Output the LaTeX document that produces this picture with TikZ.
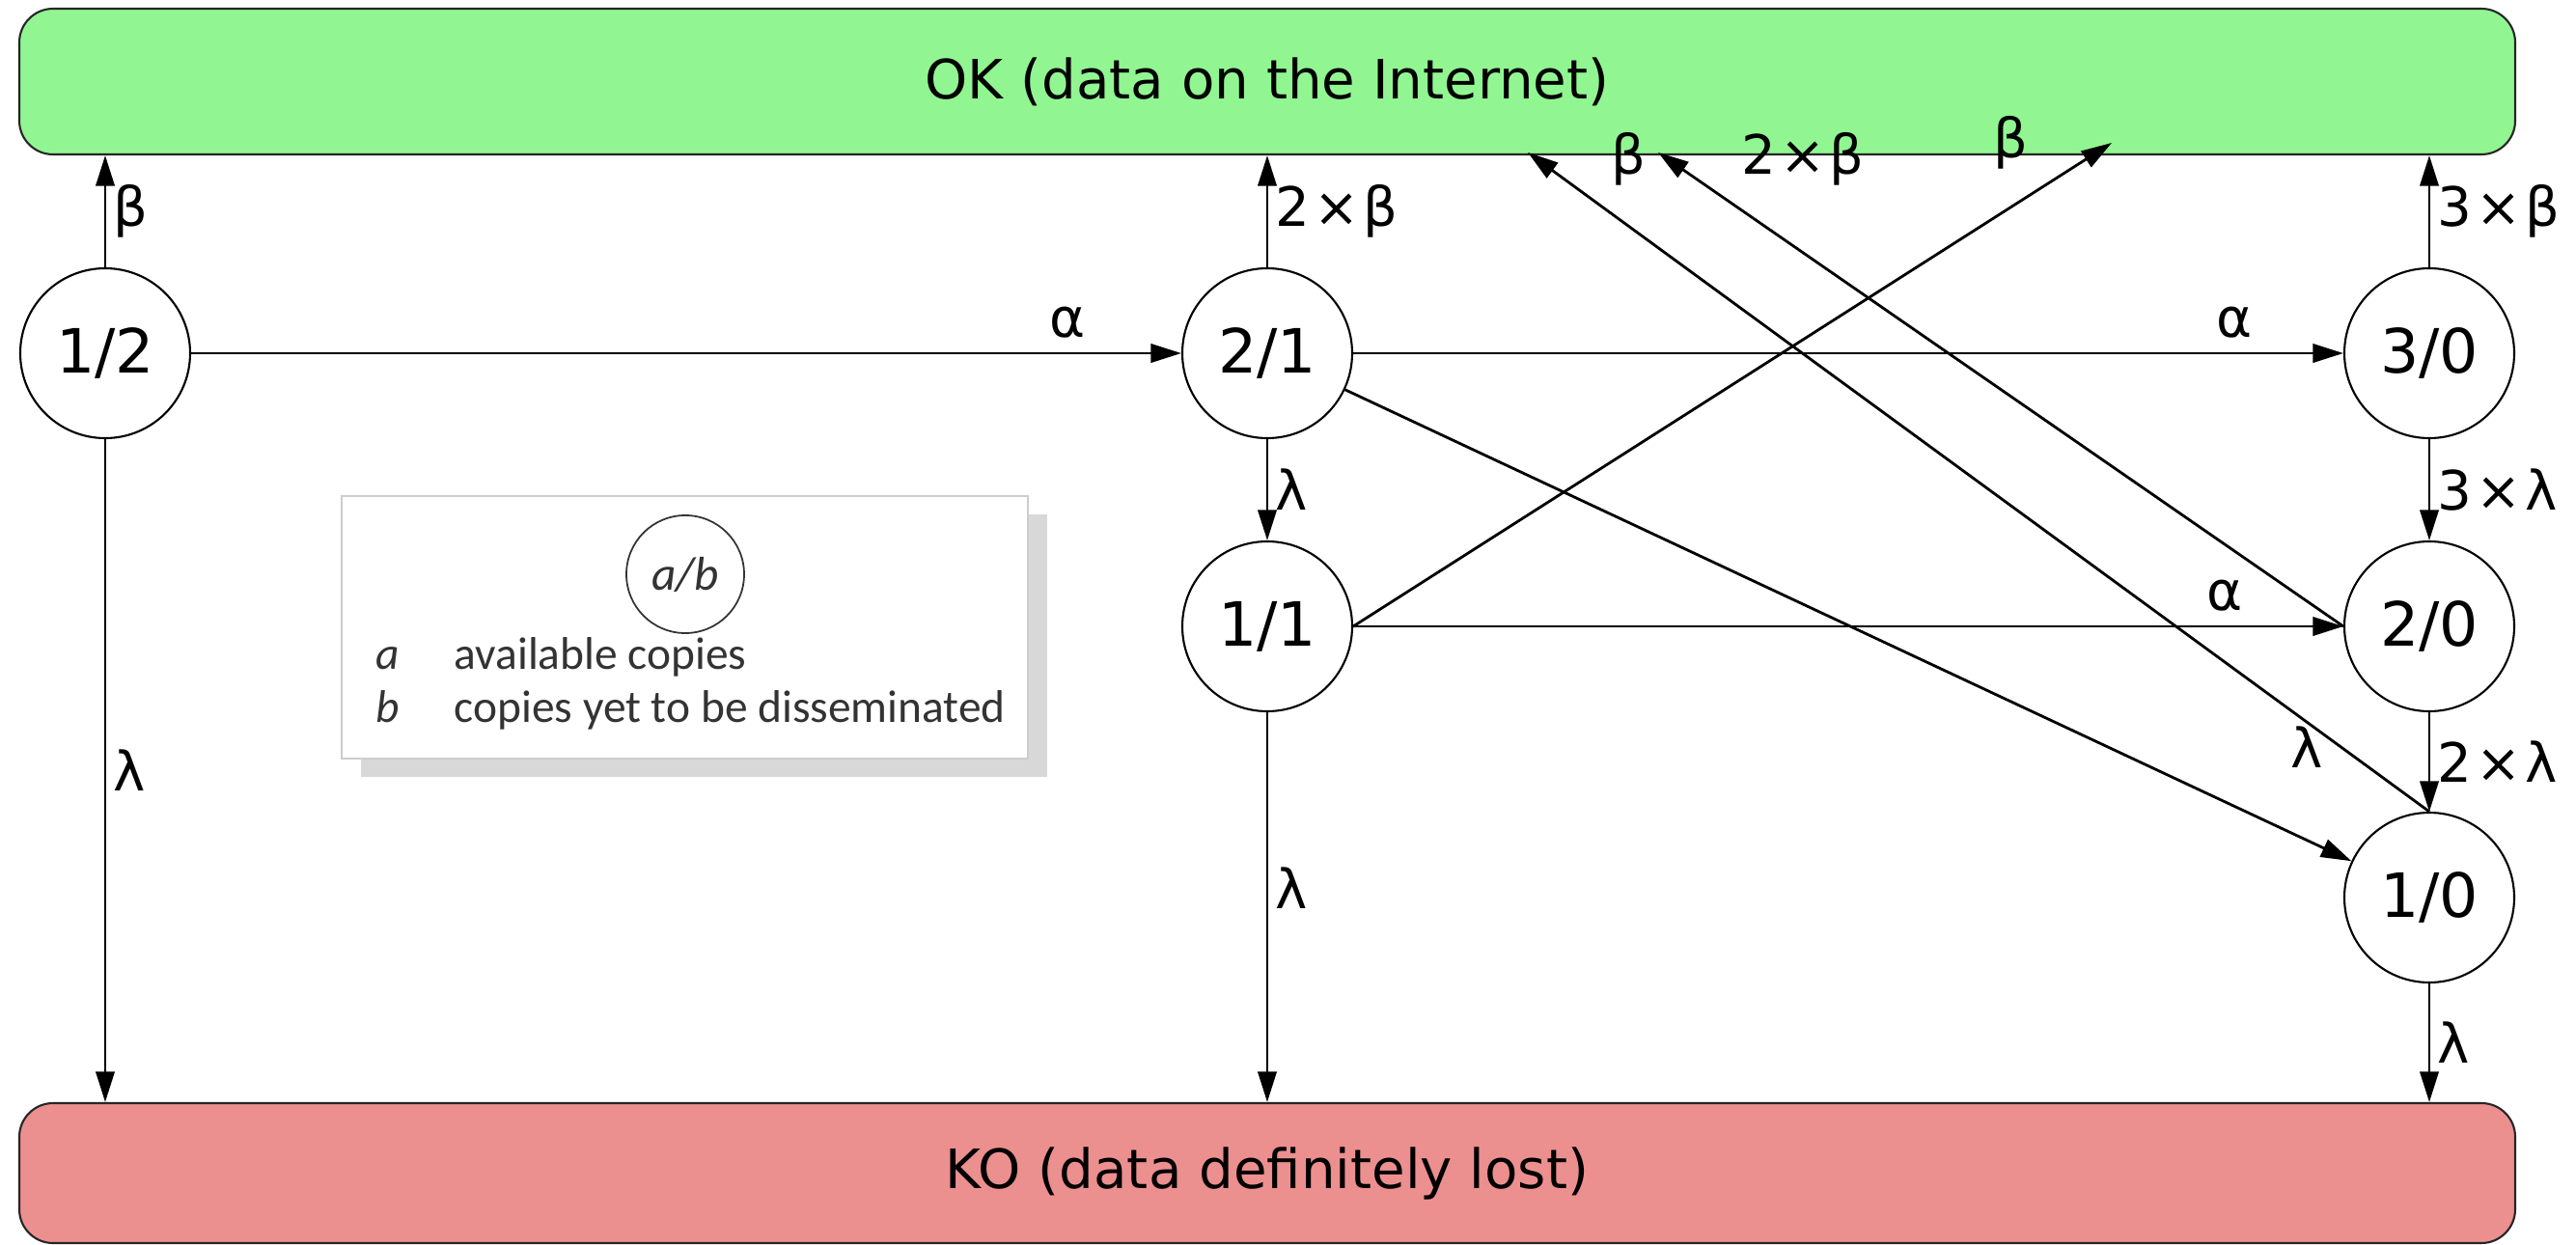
\documentclass[tikz,border=0pt]{standalone}
\usepackage{fontspec}
\setmainfont{DejaVu Sans}
\newfontfamily\legendfont{Carlito}
\usetikzlibrary{arrows.meta,calc,shadows}

\definecolor{okgreen}{RGB}{145,246,145}
\definecolor{kored}{RGB}{236,143,143}
\definecolor{legendedge}{RGB}{205,205,205}
\definecolor{legendshadow}{RGB}{216,216,216}

% rate label of the form  k x symbol
\newcommand{\ratelabel}[2]{#1\hspace{1.2pt}×\hspace{1.2pt}#2}

\begin{document}
\begin{tikzpicture}[
  state/.style={circle, draw=black, line width=0.6pt, minimum size=1.76cm,
    inner sep=0pt, font=\fontsize{18}{20}\selectfont},
  arr/.style={-{Triangle[length=9pt,width=5.5pt]}, line width=0.8pt},
  lab/.style={font=\fontsize{16}{18}\selectfont, inner sep=2pt},
  outcome/.style={draw=black!85, line width=0.6pt, rounded corners=0.35cm,
    minimum width=25.86cm, font=\fontsize{16}{19}\selectfont},
  legtext/.style={font=\legendfont\fontsize{13.5}{16}\selectfont, text=black!80,
    inner sep=0pt, anchor=base west}
]
\useasboundingbox (0,0) rectangle (26.69,12.89);

% absorbing outcomes
\node[outcome, fill=okgreen, minimum height=1.51cm] (ok) at (13.13,12.045)
  {OK (data on the Internet)};
\node[outcome, fill=kored, minimum height=1.45cm] (ko) at (13.13,0.735)
  {KO (data definitely lost)};

% states a/b
\node[state] (n12) at (1.09,9.23) {1/2};
\node[state] (n21) at (13.13,9.23) {2/1};
\node[state] (n30) at (25.17,9.23) {3/0};
\node[state] (n11) at (13.13,6.40) {1/1};
\node[state] (n20) at (25.17,6.40) {2/0};
\node[state] (n10) at (25.17,3.59) {1/0};

% end points of the diagonal transitions towards OK
\coordinate (t10) at (15.83,11.31);
\coordinate (t20) at (17.18,11.31);
\coordinate (t11) at (21.88,11.41);

% legend
\node[draw=legendedge, fill=white, line width=0.6pt,
      minimum width=7.11cm, minimum height=2.72cm, inner sep=0pt,
      drop shadow={shadow xshift=0.2cm, shadow yshift=-0.19cm,
                   fill=legendshadow, opacity=1}]
  (legend) at (7.095,6.39) {};
\node[circle, draw=black!80, line width=0.5pt, minimum size=1.22cm, inner sep=0pt,
      font=\legendfont\itshape\fontsize{14}{16}\selectfont, text=black!80]
  (legcirc) at (7.10,6.94) {a/b};
\node[legtext] (lega) at (3.89,5.96) {\itshape a};
\node[legtext] (legatxt) at (4.70,5.96) {available copies};
\node[legtext] (legb) at (3.89,5.41) {\itshape b};
\node[legtext] (legbtxt) at (4.70,5.41) {copies yet to be disseminated};

% transitions
\draw[arr] (n12) -- (n12 |- ok.south) node[lab, midway, right] {β};
\draw[arr] (n12) -- (n21) node[lab, pos=0.885, above, yshift=2pt] {α};
\draw[arr] (n12) -- (n12 |- ko.north) node[lab, midway, right] {λ};

\draw[arr] (n21) -- (n21 |- ok.south) node[lab, midway, right] {\ratelabel{2}{β}};
\draw[arr] (n21) -- (n30) node[lab, pos=0.89, above, yshift=2pt] {α};
\draw[arr] (n21) -- (n11) node[lab, midway, right] {λ};
\draw[arr] (n21) -- (n10) node[lab, pos=0.956, yshift=0.97cm] {λ};

\draw[arr] (n30) -- (n30 |- ok.south) node[lab, midway, right] {\ratelabel{3}{β}};
\draw[arr] (n30) -- (n20) node[lab, midway, right] {\ratelabel{3}{λ}};

\draw[arr] (n11) -- (n20) node[lab, pos=0.88, above, yshift=2pt] {α};
\draw[arr] (n11) -- (n11 |- ko.north) node[lab, pos=0.45, right] {λ};
\draw[arr] (n11.east) -- (t11) node[lab, pos=1, anchor=east, xshift=-0.78cm] {β};

\draw[arr] (n20) -- (n10) node[lab, midway, right] {\ratelabel{2}{λ}};
\draw[arr] (n20.west) -- (t20)
  node[lab, pos=1, anchor=west, xshift=0.78cm, yshift=-0.07cm] {\ratelabel{2}{β}};

\draw[arr] (n10) -- (n10 |- ko.north) node[lab, midway, right] {λ};
\draw[arr] (n10.north) -- (t10)
  node[lab, pos=1, anchor=west, xshift=0.78cm, yshift=-0.07cm] {β};
\end{tikzpicture}
\end{document}
